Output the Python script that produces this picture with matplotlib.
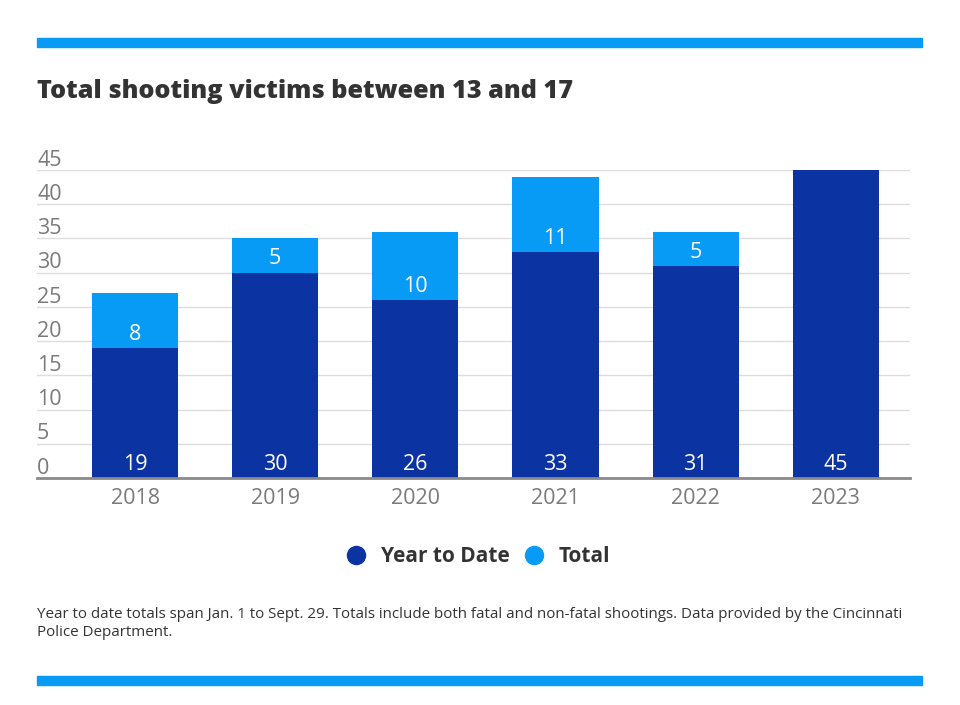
import matplotlib
matplotlib.use("Agg")
import matplotlib.pyplot as plt
from matplotlib.patches import Rectangle
from matplotlib.lines import Line2D

years = ["2018", "2019", "2020", "2021", "2022", "2023"]
ytd = [19, 30, 26, 33, 31, 45]
extra = [8, 5, 10, 11, 5, 0]  # total minus year to date
yticks = [0, 5, 10, 15, 20, 25, 30, 35, 40, 45]

dark = "#0b33a1"
light = "#089bf6"
text_col = "#333333"
tick_col = "#7a7a7a"

plt.rcParams['font.family'] = ['Open Sans', 'DejaVu Sans']

fig = plt.figure(figsize=(9.6, 7.05), dpi=100)

# top and bottom rules
fig.patches.append(Rectangle((37/960, 1-47/705), 885/960, 9/705, transform=fig.transFigure, color=light))
fig.patches.append(Rectangle((37/960, 1-685/705), 885/960, 9/705, transform=fig.transFigure, color=light))

fig.text(37/960, 1-91/705, "Total shooting victims between 13 and 17", fontsize=18.2,
         fontweight="heavy", color=text_col, ha="left", va="center")

ax = fig.add_axes([37/960, 1-478/705, 873/960, 308/705])
x = list(range(len(years)))
ax.bar(x, ytd, width=0.615, color=dark, zorder=2)
ax.bar(x, extra, bottom=ytd, width=0.615, color=light, zorder=2)

for i in x:
    ax.text(i, 2.0, str(ytd[i]), ha="center", va="center", color="white", fontsize=15.5)
    if extra[i] > 0:
        ax.text(i, ytd[i] + 2.0, str(extra[i]), ha="center", va="center", color="white", fontsize=15.5)

ax.set_xlim(-0.70, 5.53)
ax.set_ylim(0, 45)
ax.set_yticks(yticks)
ax.yaxis.grid(True, color="#dddddd", linewidth=1, zorder=0)
ax.tick_params(axis="y", length=0, labelleft=False)
for v in yticks:
    ax.text(0.0, v - 0.1, str(v), transform=ax.get_yaxis_transform(), ha="left", va="bottom",
            fontsize=15.5, color=tick_col)
ax.set_xticks(x)
ax.set_xticklabels(years, fontsize=15.5, color=tick_col)
ax.tick_params(axis="x", length=0, pad=7)
for s in ["top", "right", "left"]:
    ax.spines[s].set_visible(False)
ax.spines["bottom"].set_color("#8a8a8a")
ax.spines["bottom"].set_linewidth(2)

handles = [Line2D([], [], marker="o", linestyle="", markersize=13, color=dark),
           Line2D([], [], marker="o", linestyle="", markersize=13, color=light)]
fig.legend(handles, ["Year to Date", "Total"], loc="center", bbox_to_anchor=(473/960, 1-557/705),
           ncol=2, frameon=False, handletextpad=0.2, columnspacing=0.15,
           prop={"size": 15, "weight": "bold"}, labelcolor=text_col)

fig.text(37/960, 1-615/705, "Year to date totals span Jan. 1 to Sept. 29. Totals include both fatal and non-fatal shootings. Data provided by the Cincinnati",
         fontsize=10.9, color=text_col, ha="left", va="center")
fig.text(37/960, 1-632/705, "Police Department.", fontsize=10.9, color=text_col, ha="left", va="center")

fig.savefig("out.png", dpi=100, facecolor="white")
